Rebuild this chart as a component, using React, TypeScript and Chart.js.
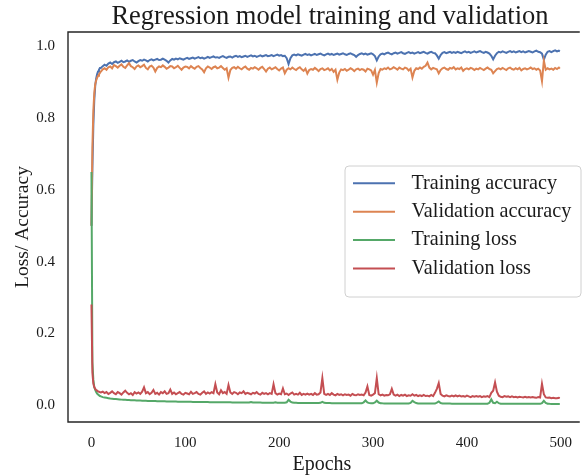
import React, { useEffect, useRef } from "react";
import { Chart, registerables } from "chart.js";

Chart.register(...registerables);

const titleText = "Regression model training and validation";
const xTitle = "Epochs";
const yTitle = "Loss/ Accuracy";
const xTicks = [0, 100, 200, 300, 400, 500];
const yTicks = [0, 0.2, 0.4, 0.6, 0.8, 1.0];
const seriesLabels = ["Training accuracy", "Validation accuracy", "Training loss", "Validation loss"];
const seriesColors = ["#4C72B0", "#DD8452", "#55A868", "#C44E52"];

const epochs = [
  0, 1, 2, 3, 4, 5, 6, 7, 8, 9,
  10, 12, 14, 16, 18, 20, 22, 24, 26, 28,
  30, 32, 34, 36, 38, 40, 42, 44, 46, 48,
  50, 52, 54, 56, 58, 60, 62, 64, 66, 68,
  70, 72, 74, 76, 78, 80, 82, 84, 86, 88,
  90, 92, 94, 96, 98, 100, 102, 104, 106, 108,
  110, 112, 114, 116, 118, 120, 122, 124, 126, 128,
  130, 132, 134, 136, 138, 140, 142, 144, 146, 148,
  150, 152, 154, 156, 158, 160, 162, 164, 166, 168,
  170, 172, 174, 176, 178, 180, 182, 184, 186, 188,
  190, 192, 194, 196, 198, 200, 202, 204, 206, 208,
  210, 212, 214, 216, 218, 220, 222, 224, 226, 228,
  230, 232, 234, 236, 238, 240, 242, 244, 246, 248,
  250, 252, 254, 256, 258, 260, 262, 264, 266, 268,
  270, 272, 274, 276, 278, 280, 282, 284, 286, 288,
  290, 292, 294, 296, 298, 300, 302, 304, 306, 308,
  310, 312, 314, 316, 318, 320, 322, 324, 326, 328,
  330, 332, 334, 336, 338, 340, 342, 344, 346, 348,
  350, 352, 354, 356, 358, 360, 362, 364, 366, 368,
  370, 372, 374, 376, 378, 380, 382, 384, 386, 388,
  390, 392, 394, 396, 398, 400, 402, 404, 406, 408,
  410, 412, 414, 416, 418, 420, 422, 424, 426, 428,
  430, 432, 434, 436, 438, 440, 442, 444, 446, 448,
  450, 452, 454, 456, 458, 460, 462, 464, 466, 468,
  470, 472, 474, 476, 478, 480, 482, 484, 486, 488,
  490, 492, 494, 496, 498, 499,
];

const trainAcc = [
  0.50, 0.66, 0.78, 0.85, 0.89, 0.91, 0.922, 0.93, 0.935, 0.94,
  0.940, 0.945, 0.949, 0.946, 0.952, 0.955, 0.951, 0.956, 0.958, 0.954,
  0.957, 0.960, 0.956, 0.958, 0.961, 0.957, 0.960, 0.962, 0.958, 0.955,
  0.959, 0.962, 0.960, 0.963, 0.961, 0.958, 0.962, 0.964, 0.961, 0.963,
  0.965, 0.962, 0.963, 0.966, 0.963, 0.960, 0.955, 0.961, 0.965, 0.963,
  0.966, 0.964, 0.967, 0.965, 0.963, 0.966, 0.968, 0.965, 0.967, 0.969,
  0.966, 0.968, 0.970, 0.967, 0.969, 0.966, 0.968, 0.971, 0.968, 0.970,
  0.972, 0.969, 0.970, 0.968, 0.971, 0.973, 0.970, 0.968, 0.971, 0.972,
  0.969, 0.972, 0.974, 0.971, 0.973, 0.970, 0.972, 0.974, 0.971, 0.973,
  0.975, 0.972, 0.974, 0.971, 0.973, 0.975, 0.972, 0.974, 0.976, 0.973,
  0.974, 0.976, 0.973, 0.975, 0.977, 0.974, 0.976, 0.973, 0.974, 0.967,
  0.951, 0.967, 0.975, 0.977, 0.975, 0.978, 0.976, 0.974, 0.977, 0.979,
  0.976, 0.978, 0.975, 0.977, 0.979, 0.976, 0.978, 0.980, 0.977, 0.975,
  0.978, 0.980, 0.977, 0.979, 0.976, 0.978, 0.980, 0.977, 0.979, 0.981,
  0.978, 0.976, 0.979, 0.981, 0.978, 0.976, 0.971, 0.976, 0.979, 0.981,
  0.978, 0.980, 0.977, 0.979, 0.981, 0.978, 0.973, 0.961, 0.972, 0.978,
  0.980, 0.978, 0.981, 0.983, 0.980, 0.978, 0.981, 0.983, 0.980, 0.982,
  0.984, 0.981, 0.979, 0.982, 0.984, 0.981, 0.983, 0.980, 0.982, 0.984,
  0.981, 0.983, 0.985, 0.982, 0.980, 0.983, 0.985, 0.982, 0.981, 0.975,
  0.966, 0.976, 0.982, 0.984, 0.981, 0.983, 0.985, 0.982, 0.984, 0.982,
  0.985, 0.983, 0.981, 0.984, 0.986, 0.983, 0.985, 0.982, 0.984, 0.986,
  0.983, 0.985, 0.987, 0.984, 0.982, 0.985, 0.983, 0.980, 0.974, 0.964,
  0.974, 0.981, 0.985, 0.983, 0.986, 0.984, 0.982, 0.985, 0.987, 0.984,
  0.986, 0.983, 0.985, 0.987, 0.984, 0.986, 0.983, 0.985, 0.987, 0.985,
  0.983, 0.986, 0.988, 0.985, 0.984, 0.980, 0.963, 0.977, 0.985, 0.987,
  0.984, 0.987, 0.989, 0.986, 0.988, 0.986,
];

const valAcc = [
  0.50, 0.72, 0.82, 0.87, 0.895, 0.905, 0.912, 0.918, 0.922, 0.926,
  0.930, 0.936, 0.939, 0.935, 0.942, 0.944, 0.939, 0.948, 0.945, 0.941,
  0.946, 0.950, 0.943, 0.940, 0.947, 0.953, 0.945, 0.942, 0.937, 0.944,
  0.947, 0.942, 0.945, 0.949, 0.940, 0.936, 0.944, 0.946, 0.941, 0.930,
  0.940, 0.944, 0.942, 0.947, 0.943, 0.938, 0.941, 0.945, 0.944, 0.939,
  0.942, 0.946, 0.940, 0.935, 0.941, 0.944, 0.943, 0.939, 0.945, 0.941,
  0.938, 0.943, 0.945, 0.940, 0.936, 0.928, 0.939, 0.944, 0.941, 0.937,
  0.942, 0.944, 0.939, 0.941, 0.945, 0.940, 0.935, 0.939, 0.913, 0.934,
  0.940, 0.942, 0.938, 0.943, 0.939, 0.936, 0.941, 0.944, 0.938, 0.935,
  0.940, 0.938, 0.942, 0.939, 0.935, 0.940, 0.943, 0.937, 0.930, 0.938,
  0.941, 0.936, 0.939, 0.942, 0.937, 0.933, 0.938, 0.941, 0.925, 0.935,
  0.939, 0.936, 0.941, 0.937, 0.934, 0.939, 0.942, 0.936, 0.932, 0.938,
  0.924, 0.934, 0.937, 0.935, 0.940, 0.936, 0.931, 0.937, 0.939, 0.934,
  0.936, 0.939, 0.933, 0.937, 0.929, 0.935, 0.907, 0.927, 0.936, 0.934,
  0.937, 0.932, 0.935, 0.939, 0.936, 0.931, 0.936, 0.938, 0.934, 0.937,
  0.935, 0.930, 0.938, 0.936, 0.933, 0.921, 0.934, 0.899, 0.926, 0.937,
  0.935, 0.939, 0.937, 0.941, 0.936, 0.938, 0.942, 0.939, 0.935, 0.941,
  0.938, 0.936, 0.941, 0.939, 0.933, 0.938, 0.913, 0.932, 0.939, 0.937,
  0.941, 0.938, 0.943, 0.946, 0.955, 0.941, 0.936, 0.940, 0.938, 0.936,
  0.925, 0.934, 0.939, 0.941, 0.937, 0.935, 0.940, 0.938, 0.942, 0.936,
  0.939, 0.937, 0.941, 0.932, 0.937, 0.939, 0.936, 0.940, 0.938, 0.934,
  0.938, 0.936, 0.940, 0.937, 0.934, 0.938, 0.941, 0.937, 0.935, 0.925,
  0.931, 0.937, 0.939, 0.936, 0.940, 0.937, 0.934, 0.939, 0.941, 0.937,
  0.935, 0.939, 0.936, 0.940, 0.933, 0.937, 0.939, 0.936, 0.938, 0.941,
  0.937, 0.939, 0.935, 0.938, 0.933, 0.903, 0.960, 0.935, 0.939, 0.936,
  0.938, 0.935, 0.940, 0.937, 0.941, 0.938,
];

const trainLoss = [
  0.65, 0.12, 0.07, 0.05, 0.042, 0.036, 0.032, 0.029, 0.027, 0.025,
  0.024, 0.022, 0.021, 0.020, 0.019, 0.018, 0.0175, 0.017, 0.0165, 0.016,
  0.0155, 0.015, 0.0147, 0.0144, 0.0141, 0.0138, 0.0135, 0.0132, 0.013, 0.0128,
  0.0125, 0.0123, 0.0121, 0.0119, 0.0117, 0.0115, 0.0113, 0.0112, 0.011, 0.0109,
  0.0107, 0.0106, 0.0104, 0.0103, 0.0102, 0.0100, 0.0099, 0.0098, 0.0097, 0.0096,
  0.0095, 0.0094, 0.0093, 0.0092, 0.0091, 0.0090, 0.0089, 0.0088, 0.0088, 0.0087,
  0.0086, 0.0085, 0.0085, 0.0084, 0.0083, 0.0082, 0.0082, 0.0081, 0.0080, 0.0080,
  0.0079, 0.0078, 0.0078, 0.0077, 0.0077, 0.0076, 0.0075, 0.0075, 0.0074, 0.0074,
  0.0073, 0.0073, 0.0072, 0.0072, 0.0071, 0.0071, 0.0070, 0.0070, 0.0069, 0.0069,
  0.0085, 0.0070, 0.0068, 0.0068, 0.0067, 0.0067, 0.0066, 0.0066, 0.0065, 0.0065,
  0.0064, 0.0064, 0.0063, 0.0078, 0.0065, 0.0063, 0.0062, 0.0062, 0.0061, 0.0075,
  0.0145, 0.0095, 0.0068, 0.0062, 0.0060, 0.0059, 0.0059, 0.0058, 0.0058, 0.0057,
  0.0057, 0.0056, 0.0056, 0.0055, 0.0055, 0.0055, 0.0054, 0.0062, 0.0090, 0.0060,
  0.0054, 0.0053, 0.0053, 0.0052, 0.0052, 0.0052, 0.0051, 0.0051, 0.0051, 0.0050,
  0.0050, 0.0050, 0.0049, 0.0049, 0.0049, 0.0048, 0.0048, 0.0048, 0.0047, 0.0047,
  0.0075, 0.0125, 0.0070, 0.0052, 0.0047, 0.0046, 0.0070, 0.0120, 0.0068, 0.0050,
  0.0046, 0.0045, 0.0045, 0.0045, 0.0044, 0.0044, 0.0044, 0.0044, 0.0043, 0.0043,
  0.0043, 0.0043, 0.0042, 0.0042, 0.0042, 0.0060, 0.0115, 0.0080, 0.0055, 0.0045,
  0.0042, 0.0041, 0.0041, 0.0041, 0.0041, 0.0040, 0.0040, 0.0040, 0.0040, 0.0065,
  0.0100, 0.0055, 0.0041, 0.0039, 0.0039, 0.0039, 0.0039, 0.0038, 0.0038, 0.0038,
  0.0038, 0.0038, 0.0037, 0.0037, 0.0037, 0.0037, 0.0037, 0.0036, 0.0036, 0.0036,
  0.0036, 0.0036, 0.0036, 0.0035, 0.0035, 0.0035, 0.0035, 0.0060, 0.0155, 0.0060,
  0.0050, 0.0090, 0.0050, 0.0036, 0.0035, 0.0034, 0.0034, 0.0034, 0.0034, 0.0034,
  0.0034, 0.0033, 0.0033, 0.0033, 0.0033, 0.0033, 0.0033, 0.0033, 0.0032, 0.0032,
  0.0032, 0.0032, 0.0032, 0.0032, 0.0032, 0.0050, 0.0115, 0.0060, 0.0036, 0.0032,
  0.0031, 0.0031, 0.0031, 0.0031, 0.0031, 0.0031,
];

const valLoss = [
  0.28, 0.09, 0.06, 0.05, 0.045, 0.042, 0.040, 0.038, 0.037, 0.036,
  0.035, 0.037, 0.033, 0.036, 0.031, 0.034, 0.038, 0.033, 0.030, 0.036,
  0.033, 0.029, 0.035, 0.040, 0.034, 0.030, 0.033, 0.028, 0.036, 0.032,
  0.035, 0.031, 0.037, 0.049, 0.033, 0.036, 0.030, 0.034, 0.042, 0.031,
  0.034, 0.029, 0.036, 0.033, 0.038, 0.031, 0.033, 0.043, 0.031, 0.035,
  0.030, 0.033, 0.036, 0.031, 0.029, 0.034, 0.032, 0.030, 0.037, 0.031,
  0.033, 0.036, 0.031, 0.029, 0.034, 0.038, 0.031, 0.035, 0.032, 0.036,
  0.033, 0.058, 0.035, 0.030, 0.041, 0.033, 0.036, 0.031, 0.056, 0.035,
  0.031, 0.036, 0.034, 0.030, 0.035, 0.033, 0.038, 0.031, 0.034, 0.032,
  0.030, 0.034, 0.032, 0.036, 0.031, 0.029, 0.034, 0.031, 0.033, 0.030,
  0.033, 0.031, 0.058, 0.033, 0.029, 0.032, 0.030, 0.046, 0.030, 0.032,
  0.028, 0.032, 0.035, 0.029, 0.031, 0.029, 0.034, 0.028, 0.031, 0.029,
  0.032, 0.029, 0.031, 0.028, 0.033, 0.029, 0.030, 0.035, 0.075, 0.031,
  0.028, 0.031, 0.028, 0.033, 0.029, 0.027, 0.031, 0.028, 0.030, 0.027,
  0.030, 0.028, 0.029, 0.026, 0.031, 0.028, 0.027, 0.030, 0.028, 0.029,
  0.027, 0.035, 0.052, 0.028, 0.026, 0.029, 0.033, 0.075, 0.030, 0.027,
  0.029, 0.026, 0.028, 0.027, 0.030, 0.045, 0.029, 0.026, 0.029, 0.025,
  0.028, 0.026, 0.029, 0.025, 0.027, 0.026, 0.030, 0.026, 0.028, 0.025,
  0.027, 0.025, 0.028, 0.025, 0.026, 0.024, 0.028, 0.025, 0.034, 0.045,
  0.061, 0.031, 0.026, 0.024, 0.027, 0.025, 0.024, 0.026, 0.024, 0.027,
  0.024, 0.026, 0.024, 0.025, 0.023, 0.026, 0.024, 0.022, 0.025, 0.023,
  0.025, 0.023, 0.025, 0.022, 0.024, 0.023, 0.025, 0.022, 0.034, 0.040,
  0.063, 0.037, 0.026, 0.023, 0.022, 0.025, 0.023, 0.024, 0.022, 0.024,
  0.022, 0.023, 0.021, 0.023, 0.022, 0.021, 0.023, 0.021, 0.022, 0.021,
  0.022, 0.021, 0.020, 0.022, 0.021, 0.059, 0.030, 0.021, 0.020, 0.021,
  0.019, 0.020, 0.019, 0.019, 0.020, 0.019,
];

const SERIF = '"Liberation Serif", "Times New Roman", serif';
const TEXT = "#1a1a1a";

const decorPlugin = {
  id: "decor",
  afterDatasetsDraw(chart: any) {
    const ctx = chart.ctx as CanvasRenderingContext2D;
    const a = chart.chartArea;
    ctx.save();
    // frame (right side falls outside the picture)
    ctx.strokeStyle = "#262626";
    ctx.lineWidth = 1.4;
    ctx.beginPath();
    ctx.moveTo(a.right + 4, a.top);
    ctx.lineTo(a.left, a.top);
    ctx.lineTo(a.left, a.bottom);
    ctx.lineTo(a.right + 4, a.bottom);
    ctx.stroke();

    // title
    ctx.fillStyle = TEXT;
    ctx.font = `26.5px ${SERIF}`;
    ctx.textAlign = "center";
    ctx.textBaseline = "alphabetic";
    ctx.fillText(titleText, 330, 24);

    // legend
    const bx = 345, by = 166, bw = 236, bh = 131, r = 4;
    ctx.fillStyle = "rgba(255,255,255,0.85)";
    ctx.strokeStyle = "#d0d0d0";
    ctx.lineWidth = 1;
    ctx.beginPath();
    ctx.moveTo(bx + r, by);
    ctx.lineTo(bx + bw - r, by);
    ctx.arcTo(bx + bw, by, bx + bw, by + r, r);
    ctx.lineTo(bx + bw, by + bh - r);
    ctx.arcTo(bx + bw, by + bh, bx + bw - r, by + bh, r);
    ctx.lineTo(bx + r, by + bh);
    ctx.arcTo(bx, by + bh, bx, by + bh - r, r);
    ctx.lineTo(bx, by + r);
    ctx.arcTo(bx, by, bx + r, by, r);
    ctx.closePath();
    ctx.fill();
    ctx.stroke();

    const ds = chart.data.datasets;
    ctx.font = `20.2px ${SERIF}`;
    ctx.textAlign = "left";
    ctx.textBaseline = "middle";
    for (let i = 0; i < ds.length; i++) {
      const yy = 183.3 + i * 28.4;
      ctx.strokeStyle = ds[i].borderColor;
      ctx.lineWidth = 2;
      ctx.beginPath();
      ctx.moveTo(353, yy);
      ctx.lineTo(395, yy);
      ctx.stroke();
      ctx.fillStyle = TEXT;
      ctx.fillText(ds[i].label, 411.5, yy);
    }
    ctx.restore();
  },
};

export default function App() {
  const ref = useRef<HTMLCanvasElement | null>(null);

  useEffect(() => {
    if (!ref.current) return;
    const series = [trainAcc, valAcc, trainLoss, valLoss];
    const chart = new Chart(ref.current, {
      type: "line",
      data: {
        datasets: series.map((vals, i) => ({
          label: seriesLabels[i],
          data: vals.map((v, j) => ({ x: epochs[j], y: v })),
          borderColor: seriesColors[i],
          backgroundColor: seriesColors[i],
          borderWidth: 2,
          pointRadius: 0,
          tension: 0,
          fill: false,
          order: 3 - i,
        })),
      },
      options: {
        animation: false,
        responsive: false,
        devicePixelRatio: 1,
        events: [],
        layout: { padding: { top: 32, left: 0, right: 0, bottom: 0 } },
        plugins: {
          legend: { display: false },
          tooltip: { enabled: false },
          title: { display: false },
        },
        scales: {
          x: {
            type: "linear",
            min: -25,
            max: 516,
            grid: { display: false, drawTicks: false, tickLength: 0 },
            border: { display: false },
            afterBuildTicks: (s: any) => {
              s.ticks = xTicks.map((v) => ({ value: v }));
            },
            afterFit: (s: any) => {
              s.height = 54;
            },
            ticks: {
              padding: 12,
              maxRotation: 0,
              color: TEXT,
              font: { family: SERIF, size: 15 },
              callback: (v: any) => String(v),
            },
            title: {
              display: true,
              text: xTitle,
              color: TEXT,
              font: { family: SERIF, size: 20, lineHeight: 1.1 },
              padding: { top: 0, bottom: 0 },
            },
          },
          y: {
            type: "linear",
            min: -0.0474,
            max: 1.0402,
            grid: { display: false, drawTicks: false, tickLength: 0 },
            border: { display: false },
            afterBuildTicks: (s: any) => {
              s.ticks = yTicks.map((v) => ({ value: v }));
            },
            afterFit: (s: any) => {
              s.width = 68;
            },
            ticks: {
              padding: 13,
              color: TEXT,
              font: { family: SERIF, size: 15 },
              callback: (v: any) => Number(v).toFixed(1),
            },
            title: {
              display: true,
              text: yTitle,
              color: TEXT,
              font: { family: SERIF, size: 19.5 },
              padding: { top: 11, bottom: 0 },
            },
          },
        },
      },
      plugins: [decorPlugin],
    });
    return () => chart.destroy();
  }, []);

  return (
    <div style={{ position: "absolute", left: 0, top: 0, width: 584, height: 476, background: "#fff" }}>
      <canvas ref={ref} width={584} height={476} style={{ display: "block" }} />
    </div>
  );
}
